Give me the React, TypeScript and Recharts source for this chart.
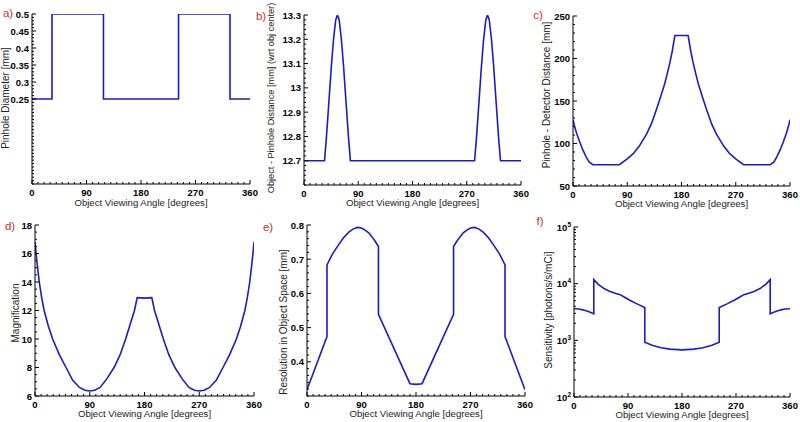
import React from "react";
import { LineChart, Line, XAxis, YAxis } from "recharts";

// a) pinhole diameter
const angA = [0, 33, 33, 118, 118, 242, 242, 327, 327, 360];
const diaA = [0.25, 0.25, 0.5, 0.5, 0.25, 0.25, 0.5, 0.5, 0.25, 0.25];

// b) object - pinhole distance
const angB = [0, 34, 37, 41.5, 45.4, 49, 52.6, 55.5, 58.4, 62, 65.6, 69.5, 74, 77, 283, 286, 290.5, 294.4, 298, 301.6, 304.5, 307.4, 311, 314.6, 318.5, 323, 326, 360];
const distB = [12.7, 12.7, 12.79, 12.95, 13.09, 13.2, 13.28, 13.3, 13.28, 13.2, 13.09, 12.95, 12.79, 12.7, 12.7, 12.79, 12.95, 13.09, 13.2, 13.28, 13.3, 13.28, 13.2, 13.09, 12.95, 12.79, 12.7, 12.7];

// c) pinhole - detector distance
const angC = [0, 3, 6, 11, 16, 22, 27, 33, 77, 90, 100, 110, 122, 130, 138, 145, 152, 157, 161, 165, 169, 191, 195, 199, 203, 208, 215, 222, 230, 238, 250, 260, 270, 283, 327, 333, 338, 344, 349, 354, 357, 360];
const distC = [128, 119, 112, 102, 93, 84, 78, 75, 75, 82, 88, 97, 111, 123, 139, 154, 170, 184, 196, 210, 227, 227, 210, 196, 184, 170, 154, 139, 123, 111, 97, 88, 82, 75, 75, 78, 84, 93, 102, 112, 119, 128];

// d) magnification
const angD = [0, 2, 4, 7, 11, 15, 22, 29, 40, 51, 62, 73, 82, 90, 98, 107, 118, 130, 140, 149, 157, 163.5, 168, 180, 192, 196.5, 203, 211, 220, 230, 242, 253, 262, 270, 278, 287, 298, 309, 320, 331, 338, 345, 349, 353, 356, 358, 360];
const magD = [16.8, 15.9, 15.1, 14, 12.9, 12, 10.9, 10, 8.9, 8, 7.1, 6.6, 6.4, 6.35, 6.4, 6.6, 7.2, 8, 8.9, 10, 11.1, 12, 12.9, 12.87, 12.9, 12, 11.1, 10, 8.9, 8, 7.2, 6.6, 6.4, 6.35, 6.4, 6.6, 7.1, 8, 8.9, 10, 10.9, 12, 12.9, 14, 15.1, 15.9, 16.8];

// e) resolution in object space
const angE = [0, 33, 33, 42, 52, 60, 69, 76, 83, 90, 96, 102, 107, 112, 118, 118, 170, 180, 190, 242, 242, 248, 253, 258, 264, 270, 277, 284, 291, 300, 308, 318, 327, 327, 360];
const resE = [0.318, 0.474, 0.683, 0.715, 0.742, 0.762, 0.779, 0.788, 0.793, 0.791, 0.785, 0.777, 0.766, 0.754, 0.737, 0.539, 0.336, 0.334, 0.336, 0.539, 0.737, 0.754, 0.766, 0.777, 0.785, 0.791, 0.793, 0.788, 0.779, 0.762, 0.742, 0.715, 0.683, 0.474, 0.318];

// f) sensitivity
const angF = [0, 8, 15, 25, 33, 33, 40, 50, 60, 70, 77, 85, 93, 105, 118, 118, 130, 145, 160, 180, 200, 215, 230, 242, 242, 255, 267, 275, 283, 290, 300, 310, 320, 327, 327, 335, 345, 352, 360];
const sensF = [3600, 3580, 3450, 3200, 2950, 11800, 9800, 8200, 7300, 6700, 6400, 5700, 5100, 4400, 3800, 930, 820, 740, 700, 680, 700, 740, 820, 930, 3800, 4400, 5100, 5700, 6400, 6700, 7300, 8200, 9800, 11800, 2950, 3200, 3450, 3580, 3600];

const xMajor = [0, 90, 180, 270, 360];
const yMajorA = [0.25, 0.3, 0.35, 0.4, 0.45, 0.5];
const yMajorB = [12.7, 12.8, 12.9, 13, 13.1, 13.2, 13.3];
const yMajorC = [50, 100, 150, 200, 250];
const yMajorD = [6, 8, 10, 12, 14, 16, 18];
const yMajorE = [0.4, 0.5, 0.6, 0.7, 0.8];
const yMajorF = [100, 1000, 10000, 100000];

const BLUE = "#1c1cc4";
const RED = "#c8302c";
const FONT = '"Liberation Sans", Arial, Helvetica, sans-serif';
const PL = 40, PT = 6, PR = 14, PB = 24;

const rnd = (v: number) => Math.round(v * 1e6) / 1e6;
const steps = (a: number, b: number, s: number) => {
  const out: number[] = [];
  for (let v = a; v <= b + s / 1000; v += s) out.push(rnd(v));
  return out;
};
const logTicks = () => {
  const out: number[] = [];
  for (let d = 100; d < 100000; d *= 10) for (let k = 1; k < 10; k++) out.push(d * k);
  out.push(100000);
  return out;
};
const isMajor = (majors: number[], v: number) => majors.some((m) => Math.abs(m - v) < 1e-6 * Math.max(1, Math.abs(m)));

const xTicks = steps(0, 360, 10);

const makeTick = (side: string, majors: number[], fmt?: (v: number) => React.ReactNode) => (props: any) => {
  const { x, y, payload } = props;
  const major = isMajor(majors, payload.value);
  const len = major ? 4 : 2;
  let line;
  if (side === "bottom") line = <line x1={x} x2={x} y1={y} y2={y - len} stroke="#000" />;
  else if (side === "top") line = <line x1={x} x2={x} y1={y} y2={y + len} stroke="#000" />;
  else if (side === "left") line = <line x1={x} x2={x + len} y1={y} y2={y} stroke="#000" />;
  else line = <line x1={x} x2={x - len} y1={y} y2={y} stroke="#000" />;
  let label = null;
  if (major && fmt) {
    if (side === "bottom")
      label = (
        <text x={x} y={y + 12} textAnchor="middle" fontSize={9.5} fontWeight="bold" fontFamily={FONT} fill="#000">
          {fmt(payload.value)}
        </text>
      );
    else if (side === "left")
      label = (
        <text x={x - 3} y={y + 3.5} textAnchor="end" fontSize={9.5} fontWeight="bold" fontFamily={FONT} fill="#000">
          {fmt(payload.value)}
        </text>
      );
  }
  return (
    <g>
      {line}
      {label}
    </g>
  );
};

const fmtNum = (v: number) => String(rnd(v));
const fmtPow = (v: number) => (
  <>
    10<tspan dy={-4} fontSize={6.5}>{Math.round(Math.log10(v))}</tspan>
  </>
);

interface Box { l: number; t: number; w: number; h: number }

interface PanelProps {
  box: Box;
  ang: number[];
  vals: number[];
  yDomain: [number, number];
  yTicks: number[];
  yMajor: number[];
  fmt: (v: number) => React.ReactNode;
  log?: boolean;
}

const Panel: React.FC<PanelProps> = ({ box, ang, vals, yDomain, yTicks, yMajor, fmt, log }) => {
  const data = ang.map((a, i) => ({ a, v: vals[i] }));
  return (
    <div style={{ position: "absolute", left: box.l - PL, top: box.t - PT }}>
      <LineChart width={box.w + PL + PR} height={box.h + PT + PB} data={data} margin={{ top: PT, right: PR, bottom: 0, left: 0 }}>
        <XAxis xAxisId="b" dataKey="a" type="number" domain={[0, 360]} ticks={xTicks} interval={0} height={PB}
          tickSize={0} tickMargin={0} tick={makeTick("bottom", xMajor, fmtNum)} tickLine={false}
          axisLine={{ stroke: "#000" }} allowDataOverflow />
        <XAxis xAxisId="t" orientation="top" dataKey="a" type="number" domain={[0, 360]} ticks={xTicks} interval={0} height={0}
          tickSize={0} tickMargin={0} tick={makeTick("top", xMajor)} tickLine={false}
          axisLine={{ stroke: "#000" }} allowDataOverflow />
        <YAxis yAxisId="l" type="number" domain={yDomain} ticks={yTicks} interval={0} width={PL}
          scale={log ? "log" : "auto"} tickSize={0} tickMargin={0} tick={makeTick("left", yMajor, fmt)} tickLine={false}
          axisLine={{ stroke: "#000" }} allowDataOverflow />
        <YAxis yAxisId="r" orientation="right" type="number" domain={yDomain} ticks={yTicks} interval={0} width={0}
          scale={log ? "log" : "auto"} tickSize={0} tickMargin={0} tick={makeTick("right", yMajor)} tickLine={false}
          axisLine={{ stroke: "#000" }} allowDataOverflow />
        <Line xAxisId="b" yAxisId="l" type="linear" dataKey="v" stroke={BLUE} strokeWidth={1.6} dot={false} isAnimationActive={false} />
      </LineChart>
    </div>
  );
};

const boxA = { l: 32, t: 14, w: 218, h: 170 };
const boxB = { l: 304, t: 15, w: 217, h: 170 };
const boxC = { l: 573, t: 16, w: 217, h: 170 };
const boxD = { l: 35, t: 225, w: 219, h: 171 };
const boxE = { l: 307, t: 225, w: 218, h: 171 };
const boxF = { l: 574, t: 227, w: 216, h: 170 };

const txt: React.CSSProperties = { position: "absolute", fontFamily: FONT, whiteSpace: "nowrap", color: "#222", lineHeight: 1 };

const XLabel = ({ box, y }: { box: Box; y: number }) => (
  <div style={{ ...txt, fontSize: 9.6, left: box.l + box.w / 2, top: y, transform: "translate(-50%,-50%)" }}>
    Object Viewing Angle [degrees]
  </div>
);
const YLabel = ({ x, y, text, size = 10 }: { x: number; y: number; text: string; size?: number }) => (
  <div style={{ ...txt, fontSize: size, left: x, top: y, transform: "translate(-50%,-50%) rotate(-90deg)" }}>{text}</div>
);
const Letter = ({ x, y, text }: { x: number; y: number; text: string }) => (
  <div style={{ ...txt, fontSize: 11.5, color: RED, left: x, top: y, transform: "translate(-50%,-50%)" }}>{text}</div>
);

export default function App() {
  return (
    <div style={{ position: "absolute", left: 0, top: 0, width: 800, height: 422, background: "#fff", overflow: "hidden" }}>
      <Panel box={boxA} ang={angA} vals={diaA} yDomain={[0, 0.5]} yTicks={steps(0, 0.5, 0.01)} yMajor={yMajorA} fmt={fmtNum} />
      <Panel box={boxB} ang={angB} vals={distB} yDomain={[12.6, 13.3]} yTicks={steps(12.6, 13.3, 0.02)} yMajor={yMajorB} fmt={fmtNum} />
      <Panel box={boxC} ang={angC} vals={distC} yDomain={[50, 250]} yTicks={steps(50, 250, 10)} yMajor={yMajorC} fmt={fmtNum} />
      <Panel box={boxD} ang={angD} vals={magD} yDomain={[6, 18]} yTicks={steps(6, 18, 0.5)} yMajor={yMajorD} fmt={fmtNum} />
      <Panel box={boxE} ang={angE} vals={resE} yDomain={[0.3, 0.8]} yTicks={steps(0.3, 0.8, 0.02)} yMajor={yMajorE} fmt={fmtNum} />
      <Panel box={boxF} ang={angF} vals={sensF} yDomain={[100, 100000]} yTicks={logTicks()} yMajor={yMajorF} fmt={fmtPow} log />

      <XLabel box={boxA} y={203} />
      <XLabel box={boxB} y={203} />
      <XLabel box={boxC} y={204} />
      <XLabel box={boxD} y={414} />
      <XLabel box={boxE} y={414} />
      <XLabel box={boxF} y={415} />

      <YLabel x={6} y={98} text="Pinhole Diameter [mm]" />
      <YLabel x={272} y={98} size={9.2} text="Object - Pinhole Distance [mm]  (wrt obj center)" />
      <YLabel x={547} y={95} text="Pinhole - Detector Distance [mm]" />
      <YLabel x={16} y={313} text="Magnification" />
      <YLabel x={284} y={322} text="Resolution in Object Space [mm]" />
      <YLabel x={549} y={310} text="Sensitivity [photons/s/mCi]" />

      <Letter x={8} y={14} text="a)" />
      <Letter x={261} y={17} text="b)" />
      <Letter x={538} y={16} text="c)" />
      <Letter x={10} y={227} text="d)" />
      <Letter x={268} y={228} text="e)" />
      <Letter x={540} y={222} text="f)" />
    </div>
  );
}
